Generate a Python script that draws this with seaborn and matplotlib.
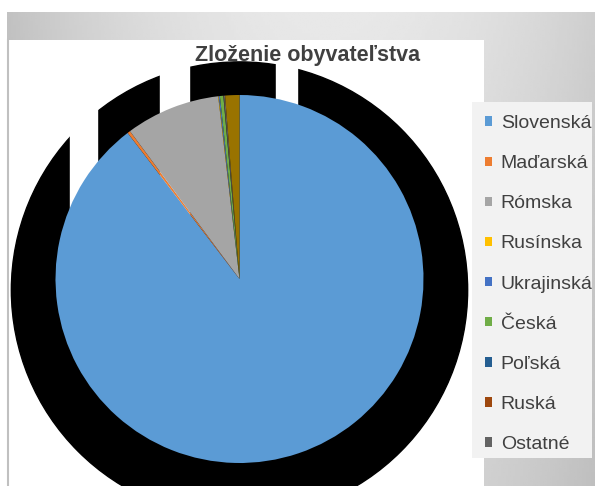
import numpy as np
import matplotlib
matplotlib.use("Agg")
import matplotlib.pyplot as plt
from matplotlib.patches import Circle, Rectangle, Patch
import seaborn as sns

# data (share of population, %)
categories = ["Slovenská", "Maďarská", "Rómska", "Rusínska", "Ukrajinská",
              "Česká", "Poľská", "Ruská", "Ostatné", "Nezistená"]
shares = [89.6, 0.25, 8.3, 0.05, 0.1, 0.3, 0.02, 0.03, 0.1, 1.25]
legend_labels = categories[:9]
colors = ["#5B9BD5", "#ED7D31", "#A5A5A5", "#FFC000", "#4472C4",
          "#70AD47", "#255E91", "#9E480E", "#636363", "#997300"]

sns.set_theme(style="white")
plt.rcParams['font.family'] = ['Liberation Sans', 'DejaVu Sans']

W, H = 595, 486
fig = plt.figure(figsize=(W / 100, H / 100), dpi=100)
fig.patch.set_facecolor("white")

# grey gradient frame
bg = fig.add_axes([7 / W, 0, (W - 7) / W, (H - 12) / H])
bg.set_zorder(-2)
yy, xx = np.mgrid[0:1:120j, 0:1:240j]
val = 0.91 - 0.5 * (xx - 0.55) ** 2 - 0.06 * yy
bg.imshow(val, cmap="gray", vmin=0, vmax=1, aspect="auto", extent=[0, 1, 0, 1])
bg.axis("off")

# white chart area
panel = fig.add_axes([8 / W, 0, 476 / W, 446 / H])
panel.set_facecolor("white")
panel.set_xticks([])
panel.set_yticks([])
for s in ["top", "right", "bottom"]:
    panel.spines[s].set_visible(False)
panel.spines["left"].set_color("#c0c0c0")
panel.spines["left"].set_linewidth(1.5)

# pie
r_px = 184
half = 1.3 * r_px
cx, cy = 239.5, 279
ax = fig.add_axes([(cx - half) / W, (H - cy - half) / H, 2 * half / W, 2 * half / H])
ax.set_facecolor("none")

# the broken black shadow behind the pie
ax.add_patch(Circle((0, -0.06), 1.24, color="black", zorder=0.5))
for x0, x1 in [(-0.921, -0.774), (-0.432, -0.274), (0.198, 0.3125)]:
    ax.add_patch(Rectangle((x0, 0), x1 - x0, 1.4, color="white", zorder=0.7))

ax.pie(shares, colors=colors, startangle=90, counterclock=False, radius=1,
       wedgeprops=dict(linewidth=0))
ax.set_xlim(-1.3, 1.3)
ax.set_ylim(-1.3, 1.3)
ax.set_aspect("equal")
ax.axis("off")

fig.text(308 / W, 1 - 55 / H, "Zloženie obyvateľstva", ha="center", va="center",
         fontsize=15.5, fontweight="bold", color="#404040")

# legend
fig.patches.append(Rectangle((472 / W, 1 - 458 / H), 120 / W, 356 / H,
                             transform=fig.transFigure, facecolor="#f2f2f2",
                             edgecolor="none", zorder=1))
handles = [Patch(facecolor=c, edgecolor="none") for c in colors[:9]]
fig.legend(handles, legend_labels, loc="upper left",
           bbox_to_anchor=(485 / W, 1 - 115 / H), frameon=False,
           borderpad=0, borderaxespad=0, handlelength=0.36, handleheight=0.36,
           handletextpad=0.45, labelspacing=1.19, fontsize=14,
           labelcolor="#404040")

fig.savefig("out.png", dpi=100)
